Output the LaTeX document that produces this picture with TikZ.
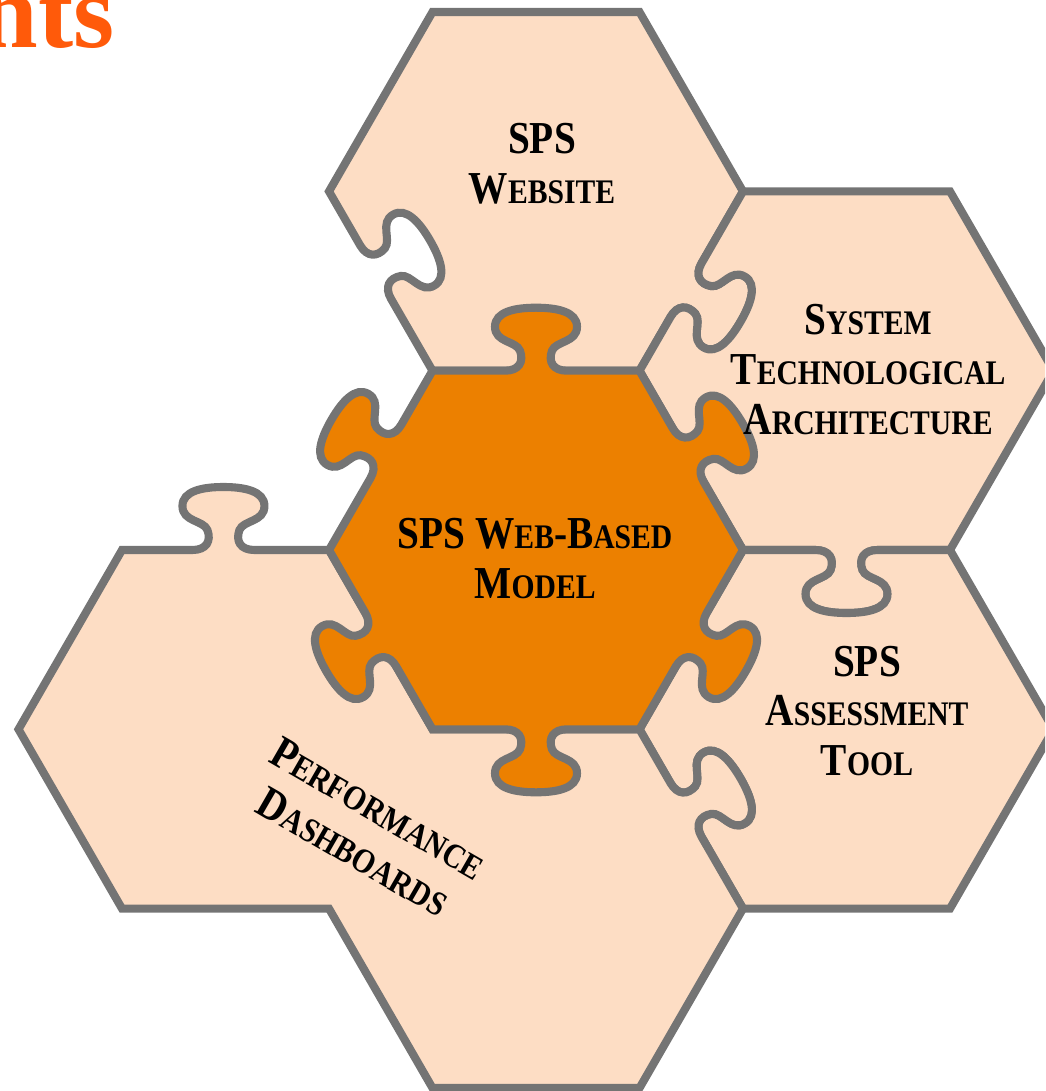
\documentclass[tikz,border=0pt]{standalone}
\usepackage{fontspec}
\setmainfont{Liberation Serif}
\newfontfamily\labfont[FakeStretch=0.86]{Liberation Serif}
\usetikzlibrary{calc}
\definecolor{peach}{RGB}{253,221,196}
\definecolor{orng}{RGB}{236,128,0}
\definecolor{edgegray}{RGB}{116,116,116}
\definecolor{titleor}{RGB}{255,90,10}
\newcommand\sm[1]{{\fontsize{9.8}{14.2}\selectfont #1}}
% puzzle knob centred at coordinate #1, edge direction #2, side #3 (+1 right, -1 left of travel)
\newcommand\knob[3]{%
 -- ($(#1)+(#2:-31)$)
 .. controls ($(#1)+(#2:-17)$) and ($(#1)+(#2:-12)+(#2+90:{9*(#3)})$) .. ($(#1)+(#2:-16)+(#2+90:{20*(#3)})$)
 .. controls ($(#1)+(#2:-20)+(#2+90:{30*(#3)})$) and ($(#1)+(#2:-41)+(#2+90:{28*(#3)})$) .. ($(#1)+(#2:-41)+(#2+90:{44*(#3)})$)
 .. controls ($(#1)+(#2:-41)+(#2+90:{59*(#3)})$) and ($(#1)+(#2:-21)+(#2+90:{63*(#3)})$) .. ($(#1)+(#2+90:{63*(#3)})$)
 .. controls ($(#1)+(#2:21)+(#2+90:{63*(#3)})$) and ($(#1)+(#2:41)+(#2+90:{59*(#3)})$) .. ($(#1)+(#2:41)+(#2+90:{44*(#3)})$)
 .. controls ($(#1)+(#2:41)+(#2+90:{28*(#3)})$) and ($(#1)+(#2:20)+(#2+90:{30*(#3)})$) .. ($(#1)+(#2:16)+(#2+90:{20*(#3)})$)
 .. controls ($(#1)+(#2:12)+(#2+90:{9*(#3)})$) and ($(#1)+(#2:17)$) .. ($(#1)+(#2:31)$)
}
\tikzset{
 pzlpiece/.style={fill=peach, draw=edgegray, line width=2.3pt},
 pzlcenter/.style={fill=orng, draw=edgegray, line width=2.3pt},
 pzltext/.style={font=\labfont\bfseries\fontsize{13}{14.2}\selectfont, align=center, text=black, inner sep=0pt},
}
\begin{document}
\begin{tikzpicture}[x=0.01cm, y=-0.01cm]
\useasboundingbox (0,0) rectangle (1045,1091);
\clip (0,0) rectangle (1045,1091);
% hexagon vertices
\coordinate (c1) at (329,550);
\coordinate (c2) at (432.5,370.7);
\coordinate (c3) at (639.5,370.7);
\coordinate (c4) at (743,550);
\coordinate (c5) at (639.5,729.3);
\coordinate (c6) at (432.5,729.3);
\coordinate (Tl) at (329,191.4);
\coordinate (Ttl) at (432.5,12);
\coordinate (Ttr) at (639.5,12);
\coordinate (Tr) at (743,191.4);
\coordinate (Rtr) at (950,191.4);
\coordinate (Rr) at (1053.5,370.7);
\coordinate (Rbr) at (950,550);
\coordinate (Ar) at (1053.5,729.3);
\coordinate (Abr) at (950,908.6);
\coordinate (Abl) at (743,908.6);
\coordinate (Bbr) at (639.5,1088);
\coordinate (Bbl) at (432.5,1088);
\coordinate (Bl) at (329,908.6);
\coordinate (Lbl) at (122,908.6);
\coordinate (Ll) at (18.5,729.3);
\coordinate (Ltl) at (122,550);
% knob centres
\coordinate (kT1) at ($(Tr)!0.55!(c3)$);
\coordinate (kT2) at ($(c2)!0.55!(Tl)$);
\coordinate (kR) at ($(Rbr)!0.5!(c4)$);
\coordinate (kA) at ($(c5)!0.45!(Abl)$);
\coordinate (kP) at ($(Ltl)!0.49!(c1)$);
\coordinate (kc1) at ($(c1)!0.55!(c2)$);
\coordinate (kc2) at ($(c2)!0.5!(c3)$);
\coordinate (kc3) at ($(c3)!0.47!(c4)$);
\coordinate (kc4) at ($(c4)!0.5!(c5)$);
\coordinate (kc5) at ($(c5)!0.5!(c6)$);
\coordinate (kc6) at ($(c6)!0.5!(c1)$);
% title fragment
\node[font=\bfseries\fontsize{30}{32}\selectfont, text=titleor, anchor=base east, inner sep=0pt] (title) at (115,48) {nts};
% outer pieces
\draw[pzlpiece] (Tl) -- (Ttl) -- (Ttr) -- (Tr) \knob{kT1}{120}{-1} -- (c3) -- (c2) \knob{kT2}{-120}{1} -- cycle;
\draw[pzlpiece] (c3) \knob{kT1}{-60}{1} -- (Tr) -- (Rtr) -- (Rr) -- (Rbr) \knob{kR}{180}{-1} -- (c4) -- cycle;
\draw[pzlpiece] (c4) \knob{kR}{0}{1} -- (Rbr) -- (Ar) -- (Abr) -- (Abl) \knob{kA}{-120}{1} -- (c5) -- cycle;
\draw[pzlpiece] (Ll) -- (Ltl) \knob{kP}{0}{-1} -- (c1) -- (c6) -- (c5) \knob{kA}{60}{-1} -- (Abl) -- (Bbr) -- (Bbl) -- (Bl) -- (Lbl) -- cycle;
% centre piece
\draw[pzlcenter] (c1) \knob{kc1}{-60}{-1} -- (c2) \knob{kc2}{0}{-1} -- (c3) \knob{kc3}{60}{-1} -- (c4) \knob{kc4}{120}{-1} -- (c5) \knob{kc5}{180}{-1} -- (c6) \knob{kc6}{-120}{-1} -- cycle;
% labels
\node[pzltext] (tw) at (542,164) {SPS\\W\sm{EBSITE}};
\node[pzltext] (st) at (868,369.5) {S\sm{YSTEM}\\T\sm{ECHNOLOGICAL}\\A\sm{RCHITECTURE}};
\node[pzltext] (cm) at (535,558.5) {SPS W\sm{EB}-B\sm{ASED}\\M\sm{ODEL}};
\node[pzltext] (at) at (867,711) {SPS\\A\sm{SSESSMENT}\\T\sm{OOL}};
\node[pzltext, rotate=-30] (pd) at (366,830) {P\sm{ERFORMANCE}\\D\sm{ASHBOARDS}};
\end{tikzpicture}
\end{document}
